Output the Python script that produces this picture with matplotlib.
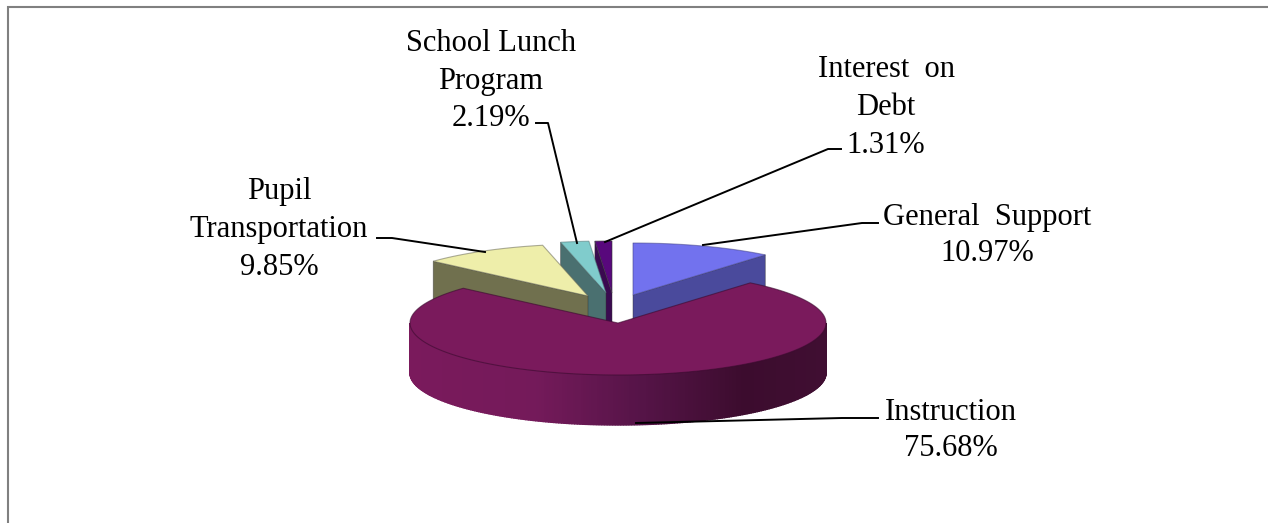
import numpy as np
import matplotlib; matplotlib.use("Agg")
import matplotlib.pyplot as plt
from matplotlib.colors import LinearSegmentedColormap

# clockwise from 12 o'clock
categories=["General Support","Instruction","Pupil Transportation","School Lunch Program","Interest on Debt"]
shares=[10.97,75.68,9.85,2.19,1.31]
labels=["General  Support\n10.97%","Instruction\n75.68%","Pupil\nTransportation\n9.85%","School Lunch\nProgram\n2.19%","Interest  on\nDebt\n1.31%"]

top_colors=["#7272ee","#7a1a5c","#eeeeaa","#80cccc","#58087c"]
wall_colors=["#4a4a9c","#7a1a5c","#70704e","#4a7070","#3a0a50"]
edge_colors=["#44448888","#3a0a2e99","#66665588","#55777788","#33333388"]
apex=[(633,295),(618,323),(588,296),(606,293),(612,293)]
label_xy=[(987,261),(951,456),(279,275),(491,126),(886,153)]
label_spacing=[1.31,1.31,1.4,1.38,1.4]
leaders=[[(703,245),(862,223),(878,223)],[(636,423),(842,418),(878,418)],[(485,252),(392,238),(377,238)],
         [(577,243),(548,123),(536,123)],[(605,242),(828,149),(841,149)]]

A,B,DEPTH=208,52,50
edges=np.cumsum([0]+shares)/100*2*np.pi

def rim(i,t):
    cx,cy=apex[i]
    return cx+A*np.sin(t), cy-B*np.cos(t)

def top_wedge(ax,i):
    t=np.linspace(edges[i],edges[i+1],200)
    x,y=rim(i,t)
    ax.fill(np.r_[apex[i][0],x],np.r_[apex[i][1],y],fc=top_colors[i],ec=edge_colors[i],lw=0.8,zorder=i_z[i]+1)

def radial_wall(ax,i,t):
    x,y=rim(i,t); ax0,ay0=apex[i]
    ax.fill([ax0,x,x,ax0],[ay0,y,y+DEPTH,ay0+DEPTH],fc=wall_colors[i],ec="#33333388",lw=0.6,zorder=i_z[i])

fig=plt.figure(figsize=(12.68,5.23),dpi=100)
ax=fig.add_axes([0,0,1,1])
ax.set_xlim(0,1268); ax.set_ylim(523,0); ax.axis("off")

ax.plot([8,8,1268],[523,7,7],color="#808080",lw=1.5,solid_joinstyle="miter",zorder=0)

# back slices: far one first so nearer ones overlap it
i_z={0:2,4:4,3:6,2:8,1:10}
radial_wall(ax,0,edges[1]); top_wedge(ax,0)
radial_wall(ax,2,edges[2]); top_wedge(ax,2)
radial_wall(ax,3,edges[3]); top_wedge(ax,3)
radial_wall(ax,4,edges[4]); top_wedge(ax,4)

# curved front wall of the big slice, shaded left to right
shade=LinearSegmentedColormap.from_list("wall",[(0,"#7a1a5c"),(0.3,"#741a5a"),(0.55,"#561448"),(0.8,"#3c0c2e"),(1,"#400e32")])
steps=np.linspace(np.pi/2,3*np.pi/2,241)
for t0,t1 in zip(steps[:-1],steps[1:]):
    x0,y0=rim(1,t0); x1,y1=rim(1,t1)
    c=shade(((x0+x1)/2-(apex[1][0]-A))/(2*A))
    ax.fill([x0,x1,x1,x0],[y0,y1,y1+DEPTH,y0+DEPTH],color=c,lw=1.0,zorder=10)
top_wedge(ax,1)

for line in leaders:
    xs,ys=zip(*line)
    ax.plot(xs,ys,color="black",lw=1.4,zorder=20)

for lab,(x,y),sp in zip(labels,label_xy,label_spacing):
    ax.text(x,y,lab,family="Liberation Serif",fontsize=22,ha="center",va="baseline",multialignment="center",linespacing=sp,color="black",zorder=21)

fig.savefig("out.png",dpi=100)
